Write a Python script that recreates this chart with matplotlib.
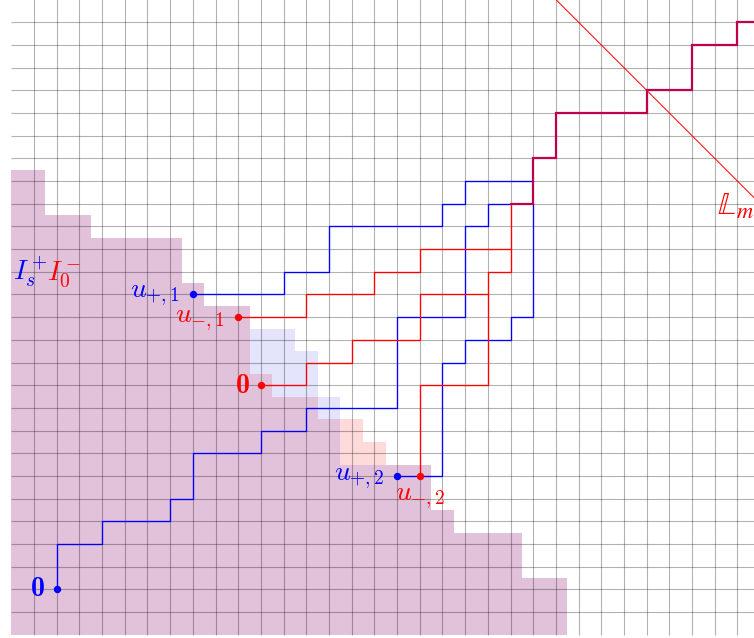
import matplotlib.pyplot as plt
import numpy as np

plt.rcParams['mathtext.fontset'] = 'cm'

# columns of the two regions (cells are centred on lattice points)
col_edges = [0, 1.5, 3.5, 7.5, 8.5, 10.5, 11.5, 12.5, 13.5, 14.5, 15.5, 16.5, 18.5, 19.5, 22.5, 24.5]
blue_top = [20.5, 18.5, 17.5, 15.5, 14.5, 13.5, 13.5, 12.5, 10.5, 7.5, 7.5, 7.5, 5.5, 4.5, 2.5]
red_top = [20.5, 18.5, 17.5, 15.5, 14.5, 11.5, 10.5, 10.5, 9.5, 9.5, 8.5, 7.5, 5.5, 4.5, 2.5]

# geodesics (corner points)
blue_from_0 = [(2, 2), (2, 4), (4, 4), (4, 5), (7, 5), (7, 6), (8, 6), (8, 8), (11, 8), (11, 9),
               (13, 9), (13, 10), (17, 10), (17, 14), (20, 14), (20, 18), (21, 18), (21, 19), (22, 19)]
blue_from_u1 = [(8, 15), (12, 15), (12, 16), (14, 16), (14, 18), (19, 18), (19, 19), (20, 19),
                (20, 20), (23, 20)]
blue_from_u2 = [(17, 7), (19, 7), (19, 12), (20, 12), (20, 13), (22, 13), (22, 14), (23, 14), (23, 19)]
red_from_u1 = [(10, 14), (13, 14), (13, 15), (16, 15), (16, 16), (18, 16), (18, 17), (22, 17), (22, 19)]
red_from_0 = [(11, 11), (13, 11), (13, 12), (15, 12), (15, 13), (18, 13), (18, 15), (21, 15),
              (21, 16), (22, 16), (22, 17)]
red_from_u2 = [(18, 7), (18, 11), (21, 11), (21, 15)]
shared_path = [(22, 19), (23, 19), (23, 21), (24, 21), (24, 23), (28, 23), (28, 24), (30, 24),
               (30, 26), (32, 26), (32, 27), (34, 27)]

blue_pts_x = [2, 8, 17]
blue_pts_y = [2, 15, 7]
red_pts_x = [11, 10, 18]
red_pts_y = [11, 14, 7]

line_m = 52  # x + y = m

fig = plt.figure(figsize=(7.54, 6.38), dpi=100)
ax = fig.add_axes([0, 0, 1, 1])
ax.set_xlim(-0.499, 32.73)
ax.set_ylim(-0.141, 27.98)
ax.axis('off')

b = np.array(blue_top)
r = np.array(red_top)
low = np.minimum(b, r)
ax.stairs(low, col_edges, baseline=0, fill=True, color='#e2c2db', lw=0, zorder=1)
ax.stairs(b, col_edges, baseline=low, fill=True, color='#e4e4fc', lw=0, zorder=1)
ax.stairs(r, col_edges, baseline=low, fill=True, color='#ffdada', lw=0, zorder=1)

# grid
ax.vlines(np.arange(1, 33), 0, 29, colors='k', alpha=0.3, lw=0.8, zorder=2)
ax.hlines(np.arange(1, 28), 0, 34, colors='k', alpha=0.3, lw=0.8, zorder=2)

for p in [blue_from_0, blue_from_u1, blue_from_u2]:
    xs, ys = zip(*p)
    ax.plot(xs, ys, color='blue', lw=0.95, zorder=3)
for p in [red_from_u1, red_from_0, red_from_u2]:
    xs, ys = zip(*p)
    ax.plot(xs, ys, color='red', lw=0.95, zorder=3)
xs, ys = zip(*shared_path)
ax.plot(xs, ys, color=(0.75, 0, 0.3), lw=1.6, zorder=4, solid_joinstyle='miter')

dx = np.array([24, 34])
ax.plot(dx, line_m - dx, color='red', lw=0.7, zorder=3)

ax.plot(blue_pts_x, blue_pts_y, 'o', color='blue', ms=4.3, zorder=5)
ax.plot(red_pts_x, red_pts_y, 'o', color='red', ms=4.3, zorder=5)

fs = 20
ax.text(1.5, 2.0, '0', color='blue', fontsize=fs, family='cmb10', ha='right', va='center')
ax.text(10.5, 10.95, '0', color='red', fontsize=fs, family='cmb10', ha='right', va='center')
ax.text(7.45, 14.89, r'$u_{+,1}$', color='blue', fontsize=fs, ha='right', va='baseline')
ax.text(9.42, 13.79, r'$u_{-,1}$', color='red', fontsize=fs, ha='right', va='baseline')
ax.text(16.43, 6.82, r'$u_{+,2}$', color='blue', fontsize=fs, ha='right', va='baseline')
ax.text(16.91, 5.94, r'$u_{-,2}$', color='red', fontsize=fs, ha='left', va='baseline')
ax.text(0.07, 15.64, r'$I_s^+$', color='blue', fontsize=fs, ha='left', va='baseline')
ax.text(1.56, 15.64, r'$I_0^-$', color='red', fontsize=fs, ha='left', va='baseline')
ax.text(31.09, 18.5, r'$\mathbb{L}_m$', color='red', fontsize=23, ha='left', va='baseline',
        math_fontfamily='stix')

fig.savefig('out.png', dpi=100)
